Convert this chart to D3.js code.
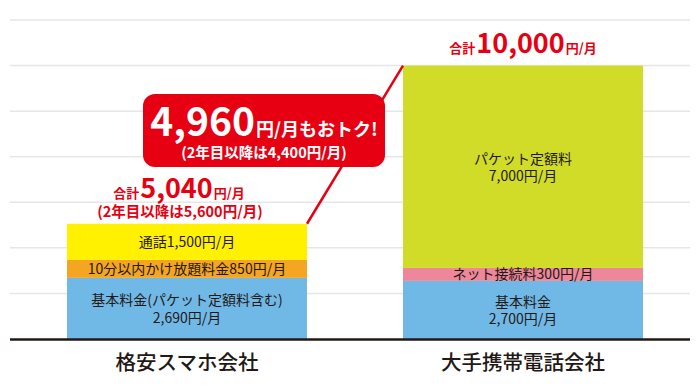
<!DOCTYPE html>
<html>
<head>
<meta charset="utf-8">
<script src="https://cdn.jsdelivr.net/npm/d3@7/dist/d3.min.js"></script>
<style>
  body { margin: 0; background: #fff; }
  svg { display: block; font-family: "Noto Sans CJK JP", sans-serif; }
</style>
</head>
<body>
<svg width="700" height="391"></svg>
<script>
/* data */
var companies = ["格安スマホ会社", "大手携帯電話会社"];

// segment names, bottom to top
var segNames = [
    ["基本料金(パケット定額料含む)", "10分以内かけ放題料金", "通話"],
    ["基本料金", "ネット接続料", "パケット定額料"]
];
// monthly amounts in yen shown in the labels
var segAmounts = [
    [2690, 850, 1500],
    [2700, 300, 7000]
];
// segment heights as drawn against the grid (chart is not to scale)
var segDrawn = [
    [2235, 660, 1320],
    [2125, 475, 7400]
];
// label on two lines?
var segTwoLines = [
    [true, false, false],
    [true, false, true]
];
var segColors = [
    ["#70b9e6", "#f4a622", "#fff100"],
    ["#70b9e6", "#ee8799", "#d0dc28"]
];

var totals = [5040, 10000];
var secondYear = [5600, null];
var saving = 4960, savingSecondYear = 4400;

var gridValues = [1, 2, 3, 4, 5, 6, 7].map(function (k) { return k * 10000 / 6; });

/* setup */
var svg = d3.select("svg"),
    red = "#e60012",
    ink = "#231815",
    fmt = d3.format(",");

var x = d3.scaleBand()
    .domain(companies)
    .range([10, 700])
    .paddingInner(0.2857)
    .paddingOuter(0.1696);

var y = d3.scaleLinear()
    .domain([0, 70000 / 6])
    .range([339, 20]);

// grid
svg.append("g").selectAll("line")
    .data(gridValues)
    .enter().append("line")
    .attr("x1", 10).attr("x2", 690)
    .attr("y1", function (d) { return y(d); })
    .attr("y2", function (d) { return y(d); })
    .attr("stroke", "#e6e6e6")
    .attr("stroke-width", 1.5);

// stack
var stacked = companies.map(function (c, i) {
    var acc = 0;
    return segDrawn[i].map(function (v, j) {
        var s = {company: c, i: i, j: j, y0: acc, y1: acc + v};
        acc += v;
        return s;
    });
});

var bars = svg.append("g").selectAll("g")
    .data(stacked)
    .enter().append("g");

bars.selectAll("rect")
    .data(function (d) { return d; })
    .enter().append("rect")
    .attr("x", function (d) { return x(d.company); })
    .attr("width", x.bandwidth())
    .attr("y", function (d) { return y(d.y1); })
    .attr("height", function (d) { return y(d.y0) - y(d.y1); })
    .attr("fill", function (d) { return segColors[d.i][d.j]; });

// segment labels (one text element per line)
bars.each(function (segs) {
    var g = d3.select(this);
    segs.forEach(function (d) {
        var cx = x(d.company) + x.bandwidth() / 2,
            cy = (y(d.y0) + y(d.y1)) / 2,
            name = segNames[d.i][d.j],
            amt = fmt(segAmounts[d.i][d.j]) + "円/月",
            lines = segTwoLines[d.i][d.j] ? [[name, cy - 3], [amt, cy + 14.5]] : [[name + amt, cy + 5]];
        lines.forEach(function (l) {
            g.append("text")
                .attr("x", cx)
                .attr("y", l[1])
                .attr("text-anchor", "middle")
                .attr("font-size", 14)
                .attr("fill", ink)
                .text(l[0]);
        });
    });
});

// baseline
svg.append("line")
    .attr("x1", 10).attr("x2", 690)
    .attr("y1", y(0) + 0.5).attr("y2", y(0) + 0.5)
    .attr("stroke", ink)
    .attr("stroke-width", 2.5);

// category labels
svg.append("g").selectAll("text")
    .data(companies)
    .enter().append("text")
    .attr("x", function (d) { return x(d) + x.bandwidth() / 2; })
    .attr("y", 370)
    .attr("text-anchor", "middle")
    .attr("font-size", 20.5)
    .attr("font-weight", 500)
    .attr("fill", ink)
    .text(function (d) { return d; });

// totals above bars
companies.forEach(function (c, i) {
    var top = y(d3.sum(segDrawn[i])),
        cx = x(c) + x.bandwidth() / 2,
        base = secondYear[i] ? top - 26 : top - 13;
    var t = svg.append("text")
        .attr("x", cx - (secondYear[i] ? 8 : 0))
        .attr("y", base)
        .attr("text-anchor", "middle")
        .attr("fill", red)
        .attr("font-weight", 700);
    t.append("tspan").attr("font-size", 13).text("合計");
    t.append("tspan").attr("font-size", 27).attr("dx", 1).text(fmt(totals[i]));
    t.append("tspan").attr("font-size", 13).attr("dx", 1).text("円/月");
    if (secondYear[i]) {
        svg.append("text")
            .attr("x", cx - 7)
            .attr("y", top - 7)
            .attr("text-anchor", "middle")
            .attr("fill", red)
            .attr("font-weight", 700)
            .attr("font-size", 14.5)
            .text("(2年目以降は" + fmt(secondYear[i]) + "円/月)");
    }
});

// connector between bar tops
svg.append("line")
    .attr("x1", x(companies[0]) + x.bandwidth())
    .attr("y1", y(d3.sum(segDrawn[0])))
    .attr("x2", x(companies[1]))
    .attr("y2", y(d3.sum(segDrawn[1])))
    .attr("stroke", red)
    .attr("stroke-width", 2.5);

// callout
var callout = svg.append("g");
callout.append("rect")
    .attr("x", 143).attr("y", 94)
    .attr("width", 242).attr("height", 73)
    .attr("rx", 12)
    .attr("fill", red);

var ct = callout.append("text")
    .attr("x", 264).attr("y", 136)
    .attr("text-anchor", "middle")
    .attr("fill", "#fff")
    .attr("font-weight", 700);
ct.append("tspan").attr("font-size", 39).text(fmt(saving));
ct.append("tspan").attr("font-size", 18).attr("dx", 1).text("円/月もおトク!");

callout.append("text")
    .attr("x", 264).attr("y", 158)
    .attr("text-anchor", "middle")
    .attr("fill", "#fff")
    .attr("font-weight", 700)
    .attr("font-size", 14.5)
    .text("(2年目以降は" + fmt(savingSecondYear) + "円/月)");
</script>
</body>
</html>
